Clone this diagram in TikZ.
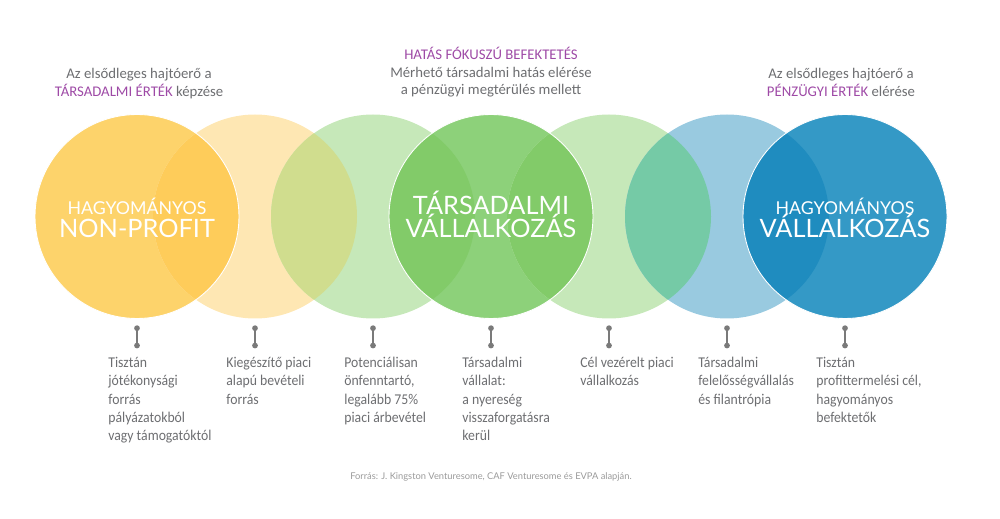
\documentclass[tikz,border=0pt]{standalone}
\usepackage{fontspec}
\setmainfont{Carlito}
\newfontfamily\lato{Lato}
\newfontfamily\narrow{Carlito}[FakeStretch=0.92]
\usetikzlibrary{arrows.meta,positioning,calc}
\definecolor{yel}{HTML}{FDD36B}
\definecolor{ltyel}{HTML}{FEE7B3}
\definecolor{ltgrn}{HTML}{C6E8B9}
\definecolor{grn}{HTML}{8DD17A}
\definecolor{ltblu}{HTML}{99CAE0}
\definecolor{blu}{HTML}{3499C6}
\definecolor{ovyel}{HTML}{FECC5A}
\definecolor{ovolive}{HTML}{D0DD8E}
\definecolor{ovgrn}{HTML}{82CB69}
\definecolor{ovteal}{HTML}{75CAA6}
\definecolor{ovblu}{HTML}{1F8CBF}
\definecolor{graytext}{HTML}{6D6E71}
\definecolor{plum}{HTML}{9E4AA6}
\definecolor{stemgray}{HTML}{7A7A7A}
\definecolor{srcgray}{HTML}{9A9A9A}
\tikzset{
  circ/.style={circle,minimum size=4.08cm,inner sep=0pt},
  ring/.style={draw=white,line width=0.5pt},
  captop/.style={font=\lato\fontsize{10.1}{11}\selectfont,text=white,anchor=base,inner sep=0pt},
  capbig/.style={font=\lato\fontsize{14.4}{15}\selectfont,text=white,anchor=base,inner sep=0pt},
  toptext/.style={font=\fontsize{8.4}{10}\selectfont,text=graytext,align=center,anchor=north,inner sep=0pt},
  note/.style={font=\narrow\fontsize{8.5}{10.4}\selectfont,text=graytext,align=left,anchor=north west,inner sep=0pt},
  stem/.style={{Circle[length=3.2pt]}-{Circle[length=3.2pt]},draw=stemgray,line width=0.8pt},
  source/.style={font=\lato\fontsize{5.3}{6}\selectfont,text=srcgray}
}
\begin{document}
\begin{tikzpicture}[x=1cm,y=1cm]
\path[use as bounding box] (0,0) rectangle (20,10.36);
\node[circ,fill=yel] (c1) at (2.74,6.03) {}; \node[circ,fill=ltyel] (c2) at (5.10,6.03) {}; \node[circ,fill=ltgrn] (c3) at (7.46,6.03) {}; \node[circ,fill=grn] (c4) at (9.82,6.03) {};
\node[circ,fill=ltgrn] (c5) at (12.18,6.03) {}; \node[circ,fill=ltblu] (c6) at (14.54,6.03) {}; \node[circ,fill=blu] (c7) at (16.90,6.03) {};
\begin{scope} \clip (c1.center) circle (2.04); \fill[ovyel] (c2.center) circle (2.04); \end{scope}
\begin{scope} \clip (c2.center) circle (2.04); \fill[ovolive] (c3.center) circle (2.04); \end{scope}
\begin{scope} \clip (c3.center) circle (2.04); \fill[ovgrn] (c4.center) circle (2.04); \end{scope}
\begin{scope} \clip (c4.center) circle (2.04); \fill[ovgrn] (c5.center) circle (2.04); \end{scope}
\begin{scope} \clip (c5.center) circle (2.04); \fill[ovteal] (c6.center) circle (2.04); \end{scope}
\begin{scope} \clip (c6.center) circle (2.04); \fill[ovblu] (c7.center) circle (2.04); \end{scope}
\draw[ring] (c1.center) circle (2.04); \draw[ring] (c4.center) circle (2.04); \draw[ring] (c7.center) circle (2.04);
\node[captop] (c1a) at ($(c1.center)+(0,0.03)$) {HAGYOMÁNYOS}; \node[capbig] (c1b) at ($(c1.center)+(0,-0.43)$) {NON-PROFIT};
\node[capbig] (c4a) at ($(c4.center)+(0,0.03)$) {TÁRSADALMI}; \node[capbig] (c4b) at ($(c4.center)+(0,-0.43)$) {VÁLLALKOZÁS};
\node[captop] (c7a) at ($(c7.center)+(0,0.03)$) {HAGYOMÁNYOS}; \node[capbig] (c7b) at ($(c7.center)+(0,-0.43)$) {VÁLLALKOZÁS};
\node[toptext] (h1) at (2.78,9.0) {Az elsődleges hajtóerő a\\\textcolor{plum}{TÁRSADALMI ÉRTÉK} képzése};
\node[toptext] (h4) at (9.82,9.42) {\textcolor{plum}{HATÁS FÓKUSZÚ BEFEKTETÉS}\\Mérhető társadalmi hatás elérése\\a pénzügyi megtérülés mellett};
\node[toptext] (h7) at (16.82,9.0) {Az elsődleges hajtóerő a\\\textcolor{plum}{PÉNZÜGYI ÉRTÉK} elérése};
\draw[stem] ([yshift=-0.13cm]c1.south) -- ([yshift=-0.59cm]c1.south); \draw[stem] ([yshift=-0.13cm]c2.south) -- ([yshift=-0.59cm]c2.south);
\draw[stem] ([yshift=-0.13cm]c3.south) -- ([yshift=-0.59cm]c3.south); \draw[stem] ([yshift=-0.13cm]c4.south) -- ([yshift=-0.59cm]c4.south);
\draw[stem] ([yshift=-0.13cm]c5.south) -- ([yshift=-0.59cm]c5.south); \draw[stem] ([yshift=-0.13cm]c6.south) -- ([yshift=-0.59cm]c6.south);
\draw[stem] ([yshift=-0.13cm]c7.south) -- ([yshift=-0.59cm]c7.south);
\node[note] (n1) at ([xshift=-0.58cm,yshift=-0.76cm]c1.south) {Tisztán\\jótékonysági\\forrás\\pályázatokból\\vagy támogatóktól};
\node[note] (n2) at ([xshift=-0.58cm,yshift=-0.76cm]c2.south) {Kiegészítő piaci\\alapú bevételi\\forrás};
\node[note] (n3) at ([xshift=-0.58cm,yshift=-0.76cm]c3.south) {Potenciálisan\\önfenntartó,\\legalább 75\%\\piaci árbevétel};
\node[note] (n4) at ([xshift=-0.58cm,yshift=-0.76cm]c4.south) {Társadalmi\\vállalat:\\a nyereség\\visszaforgatásra\\kerül};
\node[note] (n5) at ([xshift=-0.58cm,yshift=-0.76cm]c5.south) {Cél vezérelt piaci\\vállalkozás};
\node[note] (n6) at ([xshift=-0.58cm,yshift=-0.76cm]c6.south) {Társadalmi\\felelősségvállalás\\és filantrópia};
\node[note] (n7) at ([xshift=-0.58cm,yshift=-0.76cm]c7.south) {Tisztán\\profittermelési cél,\\hagyományos\\befektetők};
\node[source] (src) at (9.82,0.82) {Forrás: J. Kingston Venturesome, CAF Venturesome és EVPA alapján.};
\end{tikzpicture}
\end{document}
